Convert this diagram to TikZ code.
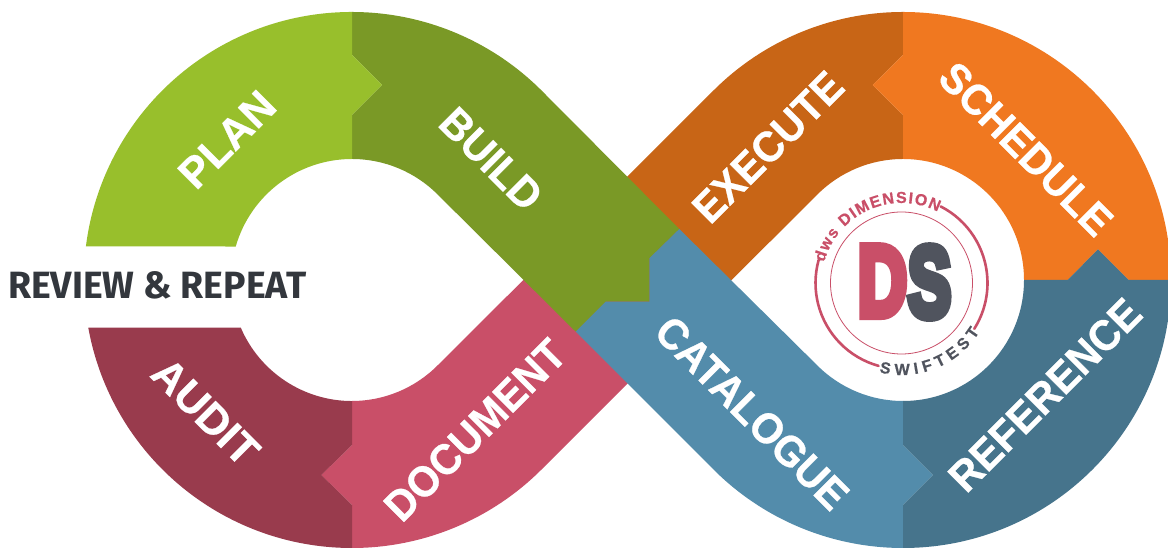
\documentclass[tikz,border=0pt]{standalone}
\usepackage{fontspec}
\usetikzlibrary{decorations.text}
\setmainfont{Liberation Sans}
\newfontfamily\revfont{Fira Sans}
\newfontfamily\labf[BoldFeatures={FakeBold=0.6}]{Liberation Sans}
\newfontfamily\logof[BoldFeatures={FakeBold=0.5}]{Liberation Sans}
\newfontfamily\dsfont[BoldFeatures={FakeBold=9}]{Liberation Sans}
\definecolor{planc}{HTML}{98BF2C}
\definecolor{buildc}{HTML}{7A9926}
\definecolor{execc}{HTML}{C86516}
\definecolor{schedc}{HTML}{F07820}
\definecolor{catc}{HTML}{538CAB}
\definecolor{refc}{HTML}{46748C}
\definecolor{docc}{HTML}{C94F68}
\definecolor{audc}{HTML}{993B4D}
\definecolor{dsgrey}{HTML}{50545E}
\definecolor{revc}{HTML}{33373D}
\newcommand\logotxt{\logof\fontsize{16}{16}\selectfont\bfseries}
\newcommand\lb[1]{\scalebox{0.95}[1]{#1}}
\tikzset{
  band/.style={line width=0pt},
  lab/.style={text=white,font=\labf\fontsize{43}{43}\selectfont\bfseries,inner sep=0pt},
  ring/.style={draw=docc,line width=2.6pt,line cap=round},
}
\begin{document}
\begin{tikzpicture}[x=1pt,y=1pt]
\clip (0,0) rectangle (1168,548);
\path[fill=white] (0,0) rectangle (1168,548);
\coordinate (logo) at (901.5,265);
% Document (passes under)
\fill[docc,band] (352,0) arc[start angle=270,end angle=315,radius=268]
  -- (679.5,216.5) -- (575.5,320) -- (437.44,182.44)
  arc[start angle=315,end angle=270,radius=121]
  -- (352,103) -- (321.3,73) -- (352,43) -- cycle;
% Execute (passes under)
\fill[execc,band] (903,536) arc[start angle=90,end angle=135,radius=268]
  -- (575.5,319.5) -- (679.5,216) -- (817.44,353.56)
  arc[start angle=135,end angle=90,radius=121]
  -- (903,433) -- (872.7,463) -- (903,493) -- cycle;
% Build
\fill[buildc,band] (352,536) arc[start angle=90,end angle=45,radius=268]
  -- (679.3,319) -- (649.3,289.7) -- (649.3,246.3) -- (605.7,246.3) -- (575.7,216.3)
  -- (437.56,353.56) arc[start angle=45,end angle=90,radius=121]
  -- (352,433) -- (382,463) -- (352,493) -- cycle;
% Catalogue
\fill[catc,band] (679.3,319) -- (817.44,182.44)
  arc[start angle=225,end angle=270,radius=121]
  -- (903,103) -- (933,73) -- (903,43) -- (903,0)
  arc[start angle=270,end angle=225,radius=268]
  -- (575.7,216.3) -- (605.7,246.3) -- (649.3,246.3) -- (649.3,289.7) -- cycle;
% Plan
\fill[planc,band] (352,536) -- (352,493) -- (382,463) -- (352,433) -- (352,389)
  arc[start angle=90,end angle=163.93,radius=121]
  -- (85.9,301.5)
  arc[start angle=172.82,end angle=90,radius=268] -- cycle;
% Audit
\fill[audc,band] (352,0) arc[start angle=270,end angle=190.25,radius=268]
  -- (240.8,220.3) arc[start angle=203.2,end angle=270,radius=121]
  -- (352,103) -- (321.3,73) -- (352,43) -- cycle;
% Schedule
\fill[schedc,band] (903,536) arc[start angle=90,end angle=0,radius=268]
  -- (1128.7,268) -- (1098,298.7) -- (1067.7,268) -- (1024,268)
  arc[start angle=0,end angle=90,radius=121]
  -- (903,433) -- (872.7,463) -- (903,493) -- cycle;
% Reference
\fill[refc,band] (1171,268) arc[start angle=0,end angle=-90,radius=268]
  -- (903,43) -- (933,73) -- (903,103) -- (903,147)
  arc[start angle=270,end angle=360,radius=121]
  -- (1067.7,268) -- (1098,298.7) -- (1128.7,268) -- cycle;
% Labels
\node[lab,rotate=45]  (plan)  at (227,408.5) {PLAN};
\node[lab,rotate=-45] (build) at (491,389) {\lb{BUILD}};
\node[lab,rotate=45]  (exec)  at (768,401) {\lb{EXECUTE}};
\node[lab,rotate=-45] (sched) at (1026,399) {\lb{SCHEDULE}};
\node[lab,rotate=-45] (cat)   at (752,135) {\lb{CATALOGUE}};
\node[lab,rotate=45]  (ref)   at (1045,153) {\lb{REFERENCE}};
\node[lab,rotate=45]  (doc)   at (475,118) {\lb{DOCUMENT}};
\node[lab,rotate=-45] (aud)   at (205.5,136) {AUDIT};
\node[text=revc,font=\revfont\fontsize{38}{38}\selectfont\bfseries,inner sep=0pt,anchor=west] (rev) at (8,262.5) {\scalebox{0.985}[1]{REVIEW \& REPEAT}};
% Logo rings
\draw[ring] ([shift={(62.9:86)}]logo) arc[start angle=62.9,end angle=-32.2,radius=86];
\draw[ring] ([shift={(254.5:86)}]logo) arc[start angle=254.5,end angle=164.4,radius=86];
\draw[docc,line width=0.8pt] (logo) circle[radius=71];
% Logo text
\path[decorate,decoration={text along path,text align=fit to path,
  text={|\logotxt\color{docc}|dws DIMENSION}}]
  ([shift={(165:80)}]logo) arc[start angle=165,end angle=63,radius=80];
\path[decorate,decoration={text along path,text align=fit to path,
  text={|\logotxt\color{dsgrey}|SWIFTEST}}]
  ([shift={(256:92)}]logo) arc[start angle=256,end angle=328,radius=92];
% DS
\node[inner sep=0pt,text=docc,anchor=base] (dsd) at (882.5,232.5) {\scalebox{0.68}[1.0]{\dsfont\fontsize{100}{100}\selectfont\bfseries D}};
\node[inner sep=0pt,text=dsgrey,anchor=base] (dss) at (929.5,231.5) {\scalebox{0.65}[1.0]{\dsfont\fontsize{100}{100}\selectfont\bfseries S}};
\end{tikzpicture}
\end{document}
